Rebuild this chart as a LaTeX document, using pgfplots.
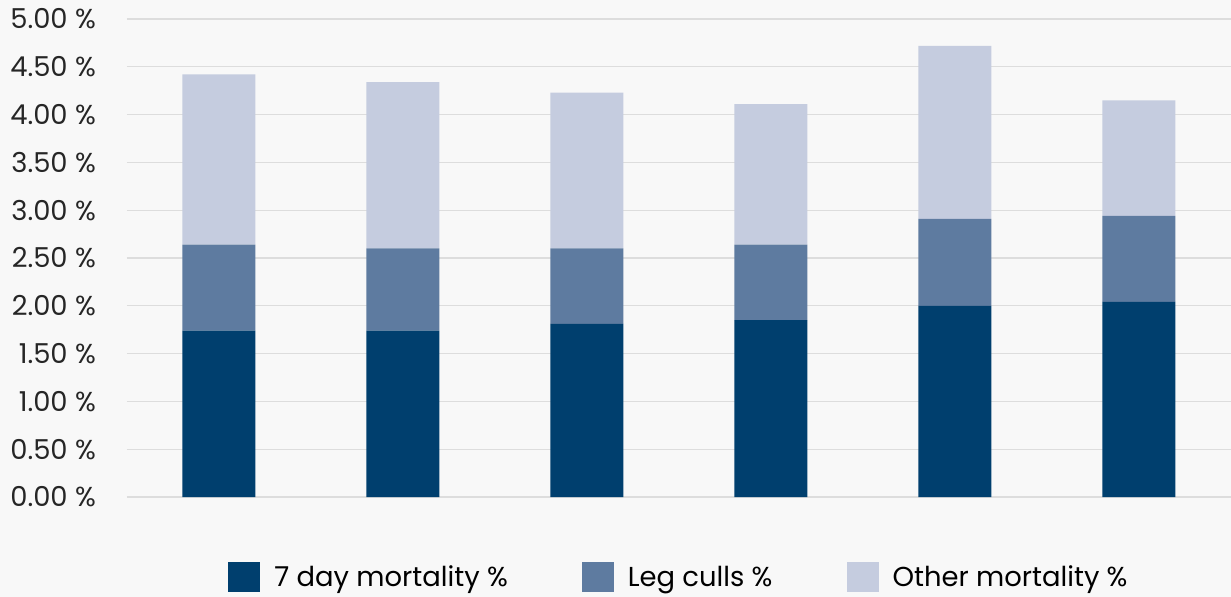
\documentclass[border=0pt]{standalone}
\usepackage{pgfplots}
\pgfplotsset{compat=1.18}
\usepackage{fontspec}
\setmainfont{Poppins}
\usetikzlibrary{backgrounds}

\definecolor{cdark}{HTML}{003F6E}
\definecolor{cmid}{HTML}{5E7BA0}
\definecolor{clight}{HTML}{C5CCDF}
\definecolor{cgrid}{HTML}{DDDDDD}
\definecolor{cbg}{HTML}{F8F8F8}

\begin{document}
\begin{tikzpicture}
\begin{axis}[
  name=ax,
  scale only axis,
  width=1104bp, height=478bp,
  xmin=-0.5, xmax=5.5,
  ymin=0, ymax=5,
  ybar stacked,
  bar width=73bp,
  xtick=\empty,
  ytick={0,0.5,...,5},
  ymajorgrids,
  grid style={cgrid, line width=1.2bp},
  axis line style={draw=none},
  tick style={draw=none},
  font=\fontsize{27.5}{32}\selectfont,
  /pgf/number format/assume math mode=true,
  yticklabel={\pgfmathprintnumber[fixed,fixed zerofill,precision=2]{\tick}~\%},
  yticklabel style={inner sep=0pt, xshift=-31bp, text=black!85},
  legend columns=3,
  legend style={at={(0.5,-0.168)}, anchor=center, draw=none, fill=none,
    font=\fontsize{27.5}{31}\selectfont, inner sep=0pt,
    /tikz/every odd column/.append style={column sep=12bp},
    /tikz/every even column/.append style={column sep=72bp}},
  legend image code/.code={\fill[#1,draw=none] (0bp,-15bp) rectangle (32bp,15bp);},
]
\addplot[fill=cdark, draw=none] coordinates {(0,1.74) (1,1.74) (2,1.81) (3,1.85) (4,2.00) (5,2.04)};
\addplot[fill=cmid, draw=none] coordinates {(0,0.90) (1,0.86) (2,0.79) (3,0.79) (4,0.91) (5,0.90)};
\addplot[fill=clight, draw=none] coordinates {(0,1.78) (1,1.74) (2,1.63) (3,1.47) (4,1.81) (5,1.21)};
\legend{7 day mortality \%, Leg culls \%, Other mortality \%}
\end{axis}
\pgfresetboundingbox
\path[use as bounding box] (ax.south west) ++(-127bp,-100bp) rectangle ++(1231bp,597bp);
\begin{scope}[on background layer]
\fill[cbg] (ax.south west) ++(-127bp,-100bp) rectangle ++(1231bp,597bp);
\end{scope}
\end{tikzpicture}
\end{document}
